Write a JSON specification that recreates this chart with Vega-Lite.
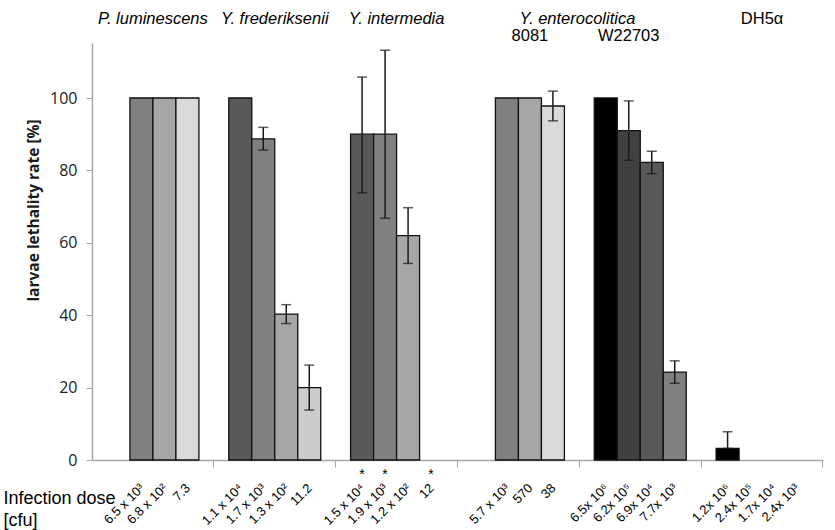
{
  "$schema": "https://vega.github.io/schema/vega-lite/v6.json",
  "autosize": {"type": "none"},
  "padding": {"left": 92, "top": 43, "right": 12, "bottom": 70},
  "width": 731,
  "height": 417,
  "config": {"view": {"stroke": null}, "font": "Liberation Sans"},
  "datasets": {
    "bars": [
      {"group": "P. luminescens", "slot": "2", "dose": "6.5 x 10³", "rate": 100, "lo": null, "hi": null, "sig": ""},
      {"group": "P. luminescens", "slot": "3", "dose": "6.8 x 10²", "rate": 100, "lo": null, "hi": null, "sig": ""},
      {"group": "P. luminescens", "slot": "4", "dose": "7.3", "rate": 100, "lo": null, "hi": null, "sig": ""},
      {"group": "Y. frederiksenii", "slot": "1", "dose": "1.1 x 10⁴", "rate": 100, "lo": null, "hi": null, "sig": ""},
      {"group": "Y. frederiksenii", "slot": "2", "dose": "1.7 x 10³", "rate": 88.7, "lo": 85.6, "hi": 91.9, "sig": ""},
      {"group": "Y. frederiksenii", "slot": "3", "dose": "1.3 x 10²", "rate": 40.3, "lo": 37.7, "hi": 42.9, "sig": ""},
      {"group": "Y. frederiksenii", "slot": "4", "dose": "11.2", "rate": 20, "lo": 13.8, "hi": 26.2, "sig": ""},
      {"group": "Y. intermedia", "slot": "1", "dose": "1.5 x 10⁴", "rate": 90, "lo": 73.8, "hi": 105.8, "sig": "*"},
      {"group": "Y. intermedia", "slot": "2", "dose": "1.9 x 10³", "rate": 90, "lo": 66.8, "hi": 113.2, "sig": "*"},
      {"group": "Y. intermedia", "slot": "3", "dose": "1.2 x 10²", "rate": 62, "lo": 54.3, "hi": 69.7, "sig": ""},
      {"group": "Y. intermedia", "slot": "4", "dose": "12", "rate": 0, "lo": null, "hi": null, "sig": "*"},
      {"group": "8081", "slot": "2", "dose": "5.7 x 10³", "rate": 100, "lo": null, "hi": null, "sig": ""},
      {"group": "8081", "slot": "3", "dose": "570", "rate": 100, "lo": null, "hi": null, "sig": ""},
      {"group": "8081", "slot": "4", "dose": "38", "rate": 97.8, "lo": 93.7, "hi": 101.9, "sig": ""},
      {"group": "W22703", "slot": "1", "dose": "6.5x 10⁶", "rate": 100, "lo": null, "hi": null, "sig": ""},
      {"group": "W22703", "slot": "2", "dose": "6.2x 10⁵", "rate": 91, "lo": 82.8, "hi": 99.2, "sig": ""},
      {"group": "W22703", "slot": "3", "dose": "6.9x 10⁴", "rate": 82.2, "lo": 79.1, "hi": 85.3, "sig": ""},
      {"group": "W22703", "slot": "4", "dose": "7.7x 10³", "rate": 24.3, "lo": 21.2, "hi": 27.4, "sig": ""},
      {"group": "DH5α", "slot": "1", "dose": "1.2x 10⁶", "rate": 3.2, "lo": 3.2, "hi": 7.8, "sig": ""},
      {"group": "DH5α", "slot": "2", "dose": "2.4x 10⁵", "rate": 0, "lo": null, "hi": null, "sig": ""},
      {"group": "DH5α", "slot": "3", "dose": "1.7x 10⁴", "rate": 0, "lo": null, "hi": null, "sig": ""},
      {"group": "DH5α", "slot": "4", "dose": "2.4x 10³", "rate": 0, "lo": null, "hi": null, "sig": ""}
    ],
    "heads": [
      {"group": "P. luminescens", "slot": null, "label": "P. luminescens", "kind": "species", "line": 1},
      {"group": "Y. frederiksenii", "slot": null, "label": "Y. frederiksenii", "kind": "species", "line": 1},
      {"group": "Y. intermedia", "slot": null, "label": "Y. intermedia", "kind": "species", "line": 1},
      {"group": "8081", "slot": null, "label": "Y. enterocolitica", "kind": "span", "line": 1},
      {"group": "DH5α", "slot": null, "label": "DH5α", "kind": "strain", "line": 1},
      {"group": "8081", "slot": "3", "label": "8081", "kind": "strain", "line": 2},
      {"group": "W22703", "slot": "2", "label": "W22703", "kind": "strain", "line": 2}
    ]
  },
  "layer": [
    {
      "data": {"name": "bars"},
      "transform": [{"filter": "datum.rate > 0"}],
      "mark": {"type": "bar", "stroke": "#111111", "strokeWidth": 1.3},
      "encoding": {
        "x": {
          "field": "group",
          "type": "nominal",
          "scale": {
            "domain": ["P. luminescens", "Y. frederiksenii", "Y. intermedia", "8081", "W22703", "DH5α"],
            "paddingInner": 0.245,
            "paddingOuter": 0.1225
          },
          "axis": {
            "labels": false,
            "bandPosition": 1.1622,
            "tickSize": 7,
            "tickColor": "#a6a6a6",
            "domainColor": "#a6a6a6",
            "domainWidth": 1.5,
            "title": ["Infection dose", "[cfu]"],
            "titleAngle": 0,
            "titleAlign": "left",
            "titleBaseline": "top",
            "titleX": -89,
            "titleY": 29,
            "titleFont": "Liberation Sans",
            "titleFontSize": 18,
            "titleFontWeight": "normal",
            "titleLineHeight": 22,
            "titleColor": "#000000"
          }
        },
        "xOffset": {
          "field": "slot",
          "type": "nominal",
          "scale": {"domain": ["1", "2", "3", "4"], "paddingInner": 0, "paddingOuter": 0}
        },
        "y": {
          "field": "rate",
          "type": "quantitative",
          "scale": {"domain": [0, 115.2], "nice": false},
          "axis": {
            "values": [0, 20, 40, 60, 80, 100],
            "title": "larvae lethality rate [%]",
            "titleFont": "Open Sans",
            "titleFontSize": 15.5,
            "titleFontWeight": "bold",
            "titleColor": "#1a1a1a",
            "titlePadding": 8,
            "titleY": 167,
            "labelFont": "Open Sans",
            "labelFontSize": 16,
            "labelColor": "#222222",
            "labelPadding": 9,
            "tickSize": 6,
            "tickColor": "#a6a6a6",
            "domainColor": "#a6a6a6",
            "domainWidth": 1.5,
            "grid": false
          }
        },
        "color": {
          "field": "dose",
          "type": "nominal",
          "legend": null,
          "scale": {
            "domain": ["6.5 x 10³", "6.8 x 10²", "7.3", "1.1 x 10⁴", "1.7 x 10³", "1.3 x 10²", "11.2", "1.5 x 10⁴", "1.9 x 10³", "1.2 x 10²", "5.7 x 10³", "570", "38", "6.5x 10⁶", "6.2x 10⁵", "6.9x 10⁴", "7.7x 10³", "1.2x 10⁶"],
            "range": ["#808080", "#a6a6a6", "#d9d9d9", "#595959", "#808080", "#a6a6a6", "#cccccc", "#595959", "#808080", "#a6a6a6", "#808080", "#a6a6a6", "#d9d9d9", "#000000", "#404040", "#595959", "#808080", "#000000"]
          }
        }
      }
    },
    {
      "data": {"name": "bars"},
      "transform": [{"filter": "isValid(datum.hi)"}],
      "mark": {"type": "rule", "color": "#1a1a1a", "strokeWidth": 1.5},
      "encoding": {
        "x": {"field": "group", "type": "nominal"},
        "xOffset": {"field": "slot", "type": "nominal"},
        "y": {"field": "lo", "type": "quantitative"},
        "y2": {"field": "hi"}
      }
    },
    {
      "data": {"name": "bars"},
      "transform": [{"filter": "isValid(datum.hi)"}],
      "mark": {"type": "tick", "orient": "horizontal", "color": "#1a1a1a", "thickness": 1.5},
      "encoding": {
        "x": {"field": "group", "type": "nominal"},
        "xOffset": {"field": "slot", "type": "nominal"},
        "y": {"field": "hi", "type": "quantitative"},
        "size": {"value": 10}
      }
    },
    {
      "data": {"name": "bars"},
      "transform": [{"filter": "isValid(datum.lo)"}],
      "mark": {"type": "tick", "orient": "horizontal", "color": "#1a1a1a", "thickness": 1.5},
      "encoding": {
        "x": {"field": "group", "type": "nominal"},
        "xOffset": {"field": "slot", "type": "nominal"},
        "y": {"field": "lo", "type": "quantitative"},
        "size": {"value": 10}
      }
    },
    {
      "data": {"name": "bars"},
      "transform": [{"filter": "datum.sig == '*'"}],
      "mark": {"type": "text", "fontSize": 14, "dy": 15, "baseline": "middle", "color": "#000000"},
      "encoding": {
        "x": {"field": "group", "type": "nominal"},
        "xOffset": {"field": "slot", "type": "nominal"},
        "y": {"datum": 0},
        "text": {"field": "sig"}
      }
    },
    {
      "data": {"name": "bars"},
      "mark": {"type": "text", "fontSize": 13, "angle": -45, "align": "right", "baseline": "middle", "dx": -18, "dy": 19, "color": "#000000"},
      "encoding": {
        "x": {"field": "group", "type": "nominal"},
        "xOffset": {"field": "slot", "type": "nominal"},
        "y": {"datum": 0},
        "text": {"field": "dose"}
      }
    },
    {
      "data": {"name": "heads"},
      "transform": [{"filter": "datum.kind == 'species'"}],
      "mark": {"type": "text", "fontSize": 16.5, "fontStyle": "italic", "baseline": "middle", "dy": -24, "color": "#000000"},
      "encoding": {
        "x": {"field": "group", "type": "nominal"},
        "y": {"datum": 115.2},
        "text": {"field": "label"}
      }
    },
    {
      "data": {"name": "heads"},
      "transform": [{"filter": "datum.kind == 'span'"}],
      "mark": {"type": "text", "fontSize": 16.5, "fontStyle": "italic", "baseline": "middle", "dx": 59, "dy": -24, "color": "#000000"},
      "encoding": {
        "x": {"field": "group", "type": "nominal"},
        "y": {"datum": 115.2},
        "text": {"field": "label"}
      }
    },
    {
      "data": {"name": "heads"},
      "transform": [{"filter": "datum.kind == 'strain' && datum.line == 1"}],
      "mark": {"type": "text", "fontSize": 16.5, "baseline": "middle", "dy": -24, "color": "#000000"},
      "encoding": {
        "x": {"field": "group", "type": "nominal"},
        "y": {"datum": 115.2},
        "text": {"field": "label"}
      }
    },
    {
      "data": {"name": "heads"},
      "transform": [{"filter": "datum.line == 2"}],
      "mark": {"type": "text", "fontSize": 16.5, "baseline": "middle", "dy": -7, "color": "#000000"},
      "encoding": {
        "x": {"field": "group", "type": "nominal"},
        "xOffset": {"field": "slot", "type": "nominal"},
        "y": {"datum": 115.2},
        "text": {"field": "label"}
      }
    }
  ]
}
